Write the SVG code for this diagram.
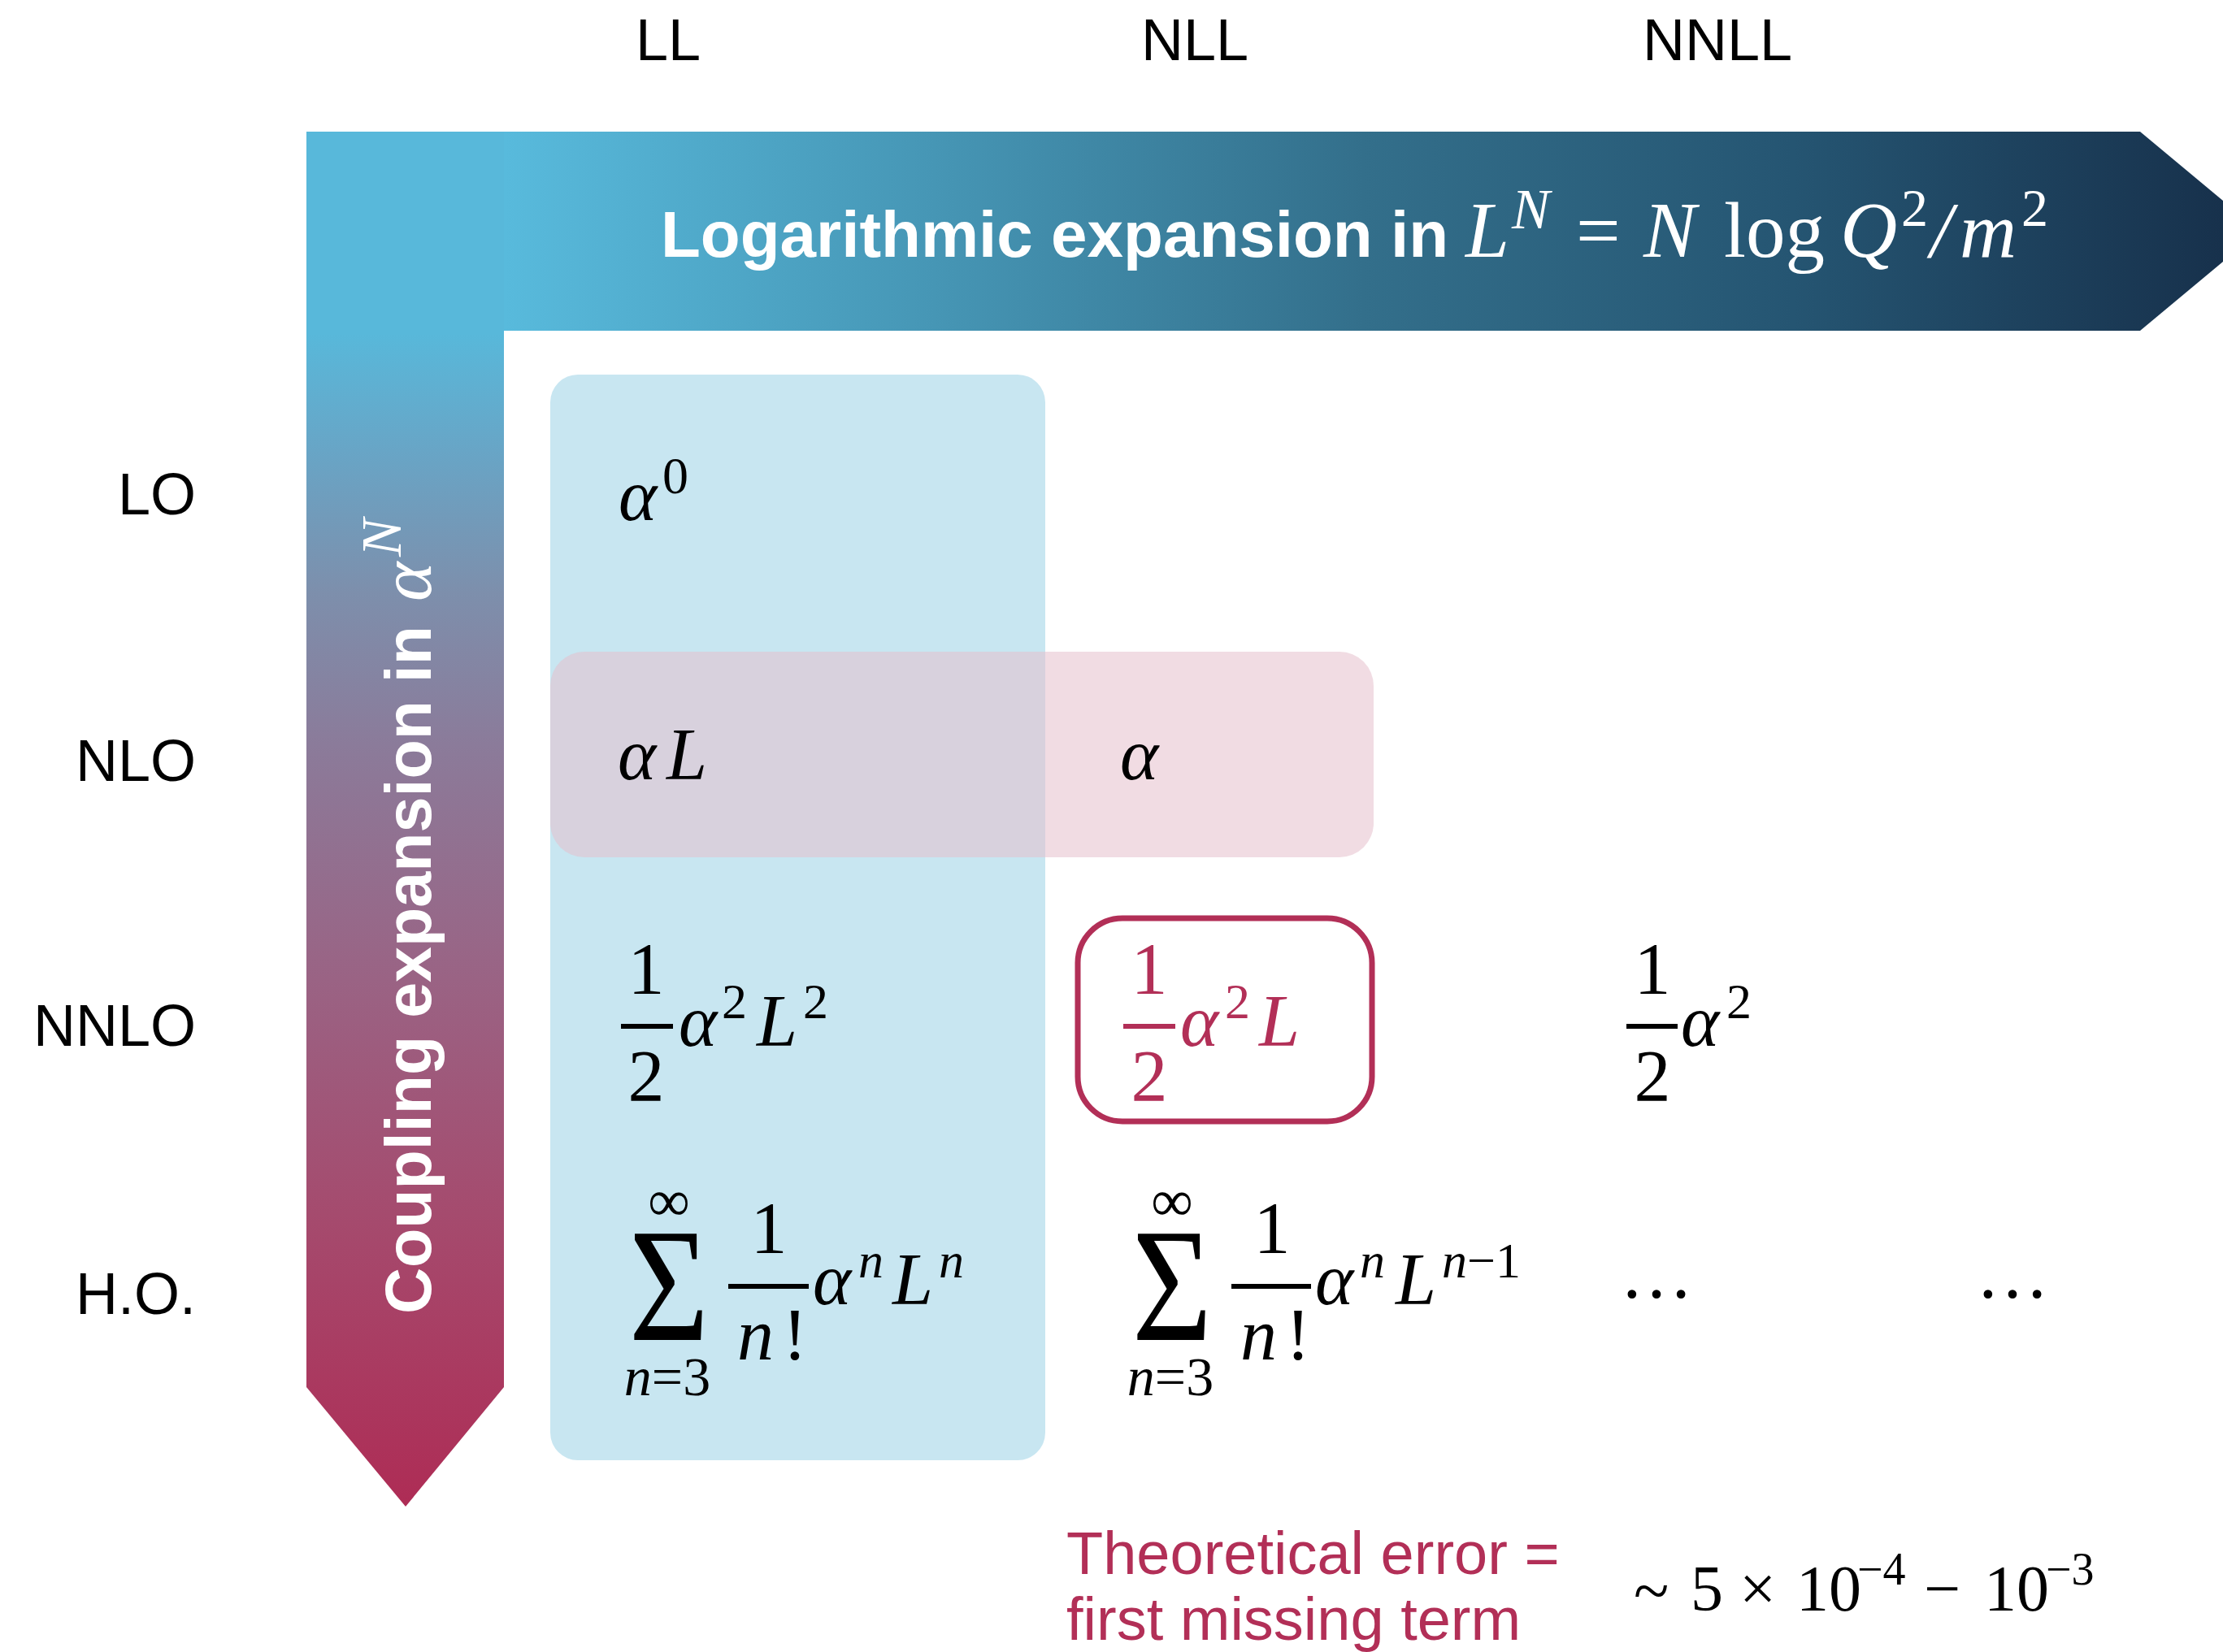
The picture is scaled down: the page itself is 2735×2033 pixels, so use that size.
<svg xmlns="http://www.w3.org/2000/svg" width="2735" height="2033" viewBox="0 0 2735 2033">
<defs>
<linearGradient id="gTop" gradientUnits="userSpaceOnUse" x1="621" y1="0" x2="2735" y2="0">
<stop offset="0" stop-color="#58badc"/>
<stop offset="0.25" stop-color="#4696b5"/>
<stop offset="0.5" stop-color="#336f8b"/>
<stop offset="0.75" stop-color="#255572"/>
<stop offset="1" stop-color="#17314c"/>
</linearGradient>
<linearGradient id="gLeft" gradientUnits="userSpaceOnUse" x1="0" y1="411" x2="0" y2="1854">
<stop offset="0" stop-color="#58b8da"/>
<stop offset="0.1" stop-color="#68a5c6"/>
<stop offset="0.22" stop-color="#7d8fac"/>
<stop offset="0.35" stop-color="#8b7b9a"/>
<stop offset="0.55" stop-color="#9a6384"/>
<stop offset="0.75" stop-color="#a54b6e"/>
<stop offset="1" stop-color="#ae2c55"/>
</linearGradient>
</defs>
<style>
.lab{font-family:"Liberation Sans",Arial,sans-serif;font-size:72px;fill:#000}
.ttl{font-family:"Liberation Sans",Arial,sans-serif;font-weight:bold;font-size:80px;fill:#fff}
.m{font-family:"Liberation Serif","Times New Roman",serif;font-size:90px;fill:#000}
.mi{font-family:"Liberation Serif","Times New Roman",serif;font-style:italic;font-size:90px;fill:#000}
.sup{font-size:62px}
.big{font-size:199px}
.lim{font-size:68px}
.inf{font-size:72px}
.red{fill:#b22f57}
.bar{fill:#000}
.err{font-family:"Liberation Sans",Arial,sans-serif;font-size:74px;fill:#b22f57}
</style>
<rect width="2735" height="2033" fill="#fff"/>

<g id="connectors">
<g id="coupling-arrow">
<polygon points="377,162 620,162 620,1707 499,1854 377,1707" fill="url(#gLeft)"/>
<text class="ttl" style="font-size:79px" transform="translate(530,1617) rotate(-90)">Coupling expansion in <tspan x="877" style="font-family:'Liberation Serif',serif;font-style:italic;font-weight:normal;font-size:92px">α</tspan><tspan x="932" dy="-37" style="font-family:'Liberation Serif',serif;font-style:italic;font-weight:normal;font-size:70px">N</tspan></text>
</g>
<g id="log-arrow">
<polygon points="620,162 2633,162 2780,284.5 2633,407 620,407" fill="url(#gTop)"/>
<text class="ttl" x="813" y="316">Logarithmic expansion in</text>
<g font-family="Liberation Serif, serif" fill="#fff" font-size="97">
<text x="1803" y="316" font-style="italic">L</text>
<text x="1860" y="281" font-style="italic" font-size="70">N</text>
<text x="1939" y="316">=</text>
<text x="2022" y="316" font-style="italic">N</text>
<text x="2121" y="316">log</text>
<text x="2264" y="316" font-style="italic">Q</text>
<text x="2339" y="278" font-size="66">2</text>
<text x="2375" y="316" font-style="italic">/</text>
<text x="2411" y="316" font-style="italic">m</text>
<text x="2487" y="278" font-size="66">2</text>
</g>
</g>
</g>

<g id="col-headers" class="lab" text-anchor="middle">
<text id="h-LL" x="822" y="74">LL</text>
<text id="h-NLL" x="1470" y="74">NLL</text>
<text id="h-NNLL" x="2113" y="74">NNLL</text>
</g>

<g id="row-labels" class="lab" text-anchor="end">
<text id="r-LO" x="241" y="633">LO</text>
<text id="r-NLO" x="241" y="961">NLO</text>
<text id="r-NNLO" x="241" y="1287">NNLO</text>
<text id="r-HO" x="241" y="1617">H.O.</text>
</g>

<g id="LL-column">
<rect x="677" y="461" width="609" height="1336" rx="34" fill="#c8e6f1"/>
</g>
<g id="NLO-row">
<rect x="677" y="802" width="1013" height="253" rx="42" fill="#e5becb" fill-opacity="0.54"/>
</g>

<g id="cell-LO-LL">
<text class="mi" x="761" y="640">α</text>
<text class="m" style="font-size:64px" x="815" y="607">0</text>
</g>

<g id="cell-NLO-LL">
<text class="mi" x="760" y="959">α</text>
<text class="mi" x="820" y="959">L</text>
</g>
<g id="cell-NLO-NLL">
<text class="mi" x="1378" y="959">α</text>
</g>

<g id="cell-NNLO-LL">
<text class="m" x="795" y="1223" text-anchor="middle">1</text>
<rect class="bar" x="764" y="1260" width="64" height="6"/>
<text class="m" x="795" y="1355" text-anchor="middle">2</text>
<text class="mi" x="835" y="1287">α</text>
<text class="m sup" x="888" y="1253">2</text>
<text class="mi" x="931" y="1287">L</text>
<text class="m sup" x="988" y="1253">2</text>
</g>

<g id="cell-NNLO-NLL">
<rect x="1326" y="1130" width="362" height="250" rx="55" fill="none" stroke="#b22f57" stroke-width="7"/>
<text class="m red" x="1414" y="1223" text-anchor="middle">1</text>
<rect x="1382" y="1260" width="64" height="6" fill="#b22f57"/>
<text class="m red" x="1414" y="1355" text-anchor="middle">2</text>
<text class="mi red" x="1452" y="1287">α</text>
<text class="m sup red" x="1507" y="1253">2</text>
<text class="mi red" x="1549" y="1287">L</text>
</g>

<g id="cell-NNLO-NNLL">
<text class="m" x="2033" y="1223" text-anchor="middle">1</text>
<rect class="bar" x="2001" y="1260" width="63" height="6"/>
<text class="m" x="2033" y="1355" text-anchor="middle">2</text>
<text class="mi" x="2068" y="1287">α</text>
<text class="m sup" x="2124" y="1253">2</text>
</g>

<g id="cell-HO-LL">
<text class="m big" text-anchor="middle" transform="translate(823,1649) scale(0.85,1)">Σ</text>
<text class="m inf" x="823" y="1502" text-anchor="middle">∞</text>
<text class="m lim" x="821" y="1717" text-anchor="middle"><tspan font-style="italic">n</tspan>=3</text>
<text class="m" x="946" y="1542" text-anchor="middle">1</text>
<rect class="bar" x="896" y="1580" width="99" height="6"/>
<text class="mi" x="907" y="1673">n</text>
<text class="m" x="963" y="1673">!</text>
<text class="mi" x="1000" y="1605">α</text>
<text class="mi sup" x="1056" y="1572">n</text>
<text class="mi" x="1098" y="1605">L</text>
<text class="mi sup" x="1155" y="1572">n</text>
</g>

<g id="cell-HO-NLL">
<text class="m big" text-anchor="middle" transform="translate(1442,1649) scale(0.85,1)">Σ</text>
<text class="m inf" x="1442" y="1502" text-anchor="middle">∞</text>
<text class="m lim" x="1440" y="1717" text-anchor="middle"><tspan font-style="italic">n</tspan>=3</text>
<text class="m" x="1565" y="1542" text-anchor="middle">1</text>
<rect class="bar" x="1515" y="1580" width="98" height="6"/>
<text class="mi" x="1526" y="1673">n</text>
<text class="m" x="1582" y="1673">!</text>
<text class="mi" x="1618" y="1605">α</text>
<text class="mi sup" x="1673" y="1572">n</text>
<text class="mi" x="1717" y="1605">L</text>
<text class="m sup" x="1774" y="1572"><tspan font-style="italic">n</tspan>−1</text>
</g>

<g id="cell-HO-NNLL">
<text class="m" x="1993" y="1597">…</text>
</g>
<g id="cell-HO-NNNLL">
<text class="m" x="2431" y="1597">…</text>
</g>

<g id="error-note">
<text class="err" x="1312" y="1937">Theoretical error =</text>
<text class="err" x="1312" y="2018">first missing term</text>
</g>
<g id="error-value" font-family="Liberation Serif, serif" font-size="80" fill="#000">
<text x="2010" y="1985">~</text>
<text x="2080" y="1982">5</text>
<text x="2140" y="1982">×</text>
<text x="2210" y="1982">10</text>
<text x="2285" y="1950" font-size="56">−4</text>
<text x="2367" y="1982">−</text>
<text x="2441" y="1982">10</text>
<text x="2517" y="1950" font-size="56">−3</text>
</g>
</svg>
